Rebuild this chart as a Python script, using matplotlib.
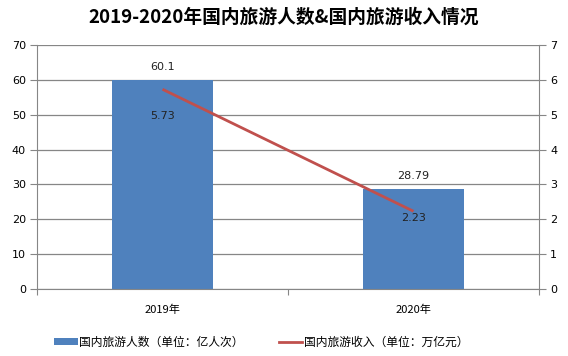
import matplotlib
matplotlib.use("Agg")
import matplotlib.pyplot as plt
from matplotlib.patches import Patch
from matplotlib.lines import Line2D

plt.rcParams['font.family'] = ['Noto Sans CJK SC', 'DejaVu Sans']

title = "2019-2020年国内旅游人数&国内旅游收入情况"
categories = ["2019年", "2020年"]
visitors = [60.1, 28.79]      # 亿人次
revenue = [5.73, 2.23]        # 万亿元
visitors_label = "国内旅游人数（单位：亿人次）"
revenue_label = "国内旅游收入（单位：万亿元）"

bar_color = "#4F81BD"
line_color = "#C0504D"
grid_color = "#868686"

fig = plt.figure(figsize=(5.68, 3.56), dpi=100)
ax = fig.add_axes([37/568, 1-289/356, (539-37)/568, (289-45)/356])
ax2 = ax.twinx()

x = list(range(len(categories)))
ax.bar(x, visitors, width=0.4, color=bar_color, zorder=2)
ax.set_xlim(-0.5, len(categories)-0.5)
ax.set_ylim(0, 70)
ax.set_yticks(range(0, 71, 10))
ax.yaxis.grid(True, color=grid_color, linewidth=0.9, zorder=0)
ax.set_axisbelow(True)

ax2.plot(x, revenue, color=line_color, linewidth=2.0, solid_capstyle='butt', zorder=3)
ax2.set_ylim(0, 7)
ax2.set_yticks(range(0, 8))

# category ticks at boundaries, labels at centres
ax.set_xticks([i - 0.5 for i in range(len(categories)+1)])
ax.set_xticklabels([])
ax.set_xticks(x, minor=True)
ax.set_xticklabels(categories, minor=True, fontsize=8)
ax.tick_params(axis='x', which='major', length=4, color=grid_color, direction='out')
ax.tick_params(axis='x', which='minor', length=0, pad=11)

for a in (ax, ax2):
    for s in a.spines.values():
        s.set_visible(False)
    a.tick_params(axis='y', length=5, color=grid_color, labelsize=8, pad=3)
ax.spines['left'].set_visible(True)
ax.spines['left'].set_color(grid_color)
ax.spines['bottom'].set_visible(True)
ax.spines['bottom'].set_color(grid_color)
ax2.spines['right'].set_visible(True)
ax2.spines['right'].set_color(grid_color)
for lab in ax.get_yticklabels() + ax2.get_yticklabels():
    lab.set_fontfamily('DejaVu Sans')

# data labels
for xi, v in zip(x, visitors):
    ax.annotate(f"{v:g}", (xi, v), xytext=(0, 9), textcoords='offset points',
                ha='center', va='center', fontsize=8, family='DejaVu Sans', color='#222222')
offsets = [-19, -5]
for xi, v, off in zip(x, revenue, offsets):
    ax2.annotate(f"{v:g}", (xi, v), xytext=(0, off), textcoords='offset points',
                 ha='center', va='center', fontsize=8, family='DejaVu Sans', color='#222222', zorder=4)

fig.text(0.5, 1-17/356, title, ha='center', va='center', fontsize=13.5, fontweight='bold')

handles = [Patch(facecolor=bar_color, edgecolor='none'),
           Line2D([0], [0], color=line_color, linewidth=2)]
leg = fig.legend(handles, [visitors_label, revenue_label], loc='center',
                 bbox_to_anchor=(261/568, 1-342/356), ncol=2, frameon=False,
                 fontsize=8.5, handlelength=2.0, handleheight=0.5, handletextpad=0.1,
                 columnspacing=3.0, borderpad=0)

fig.savefig("out.png", dpi=100)
